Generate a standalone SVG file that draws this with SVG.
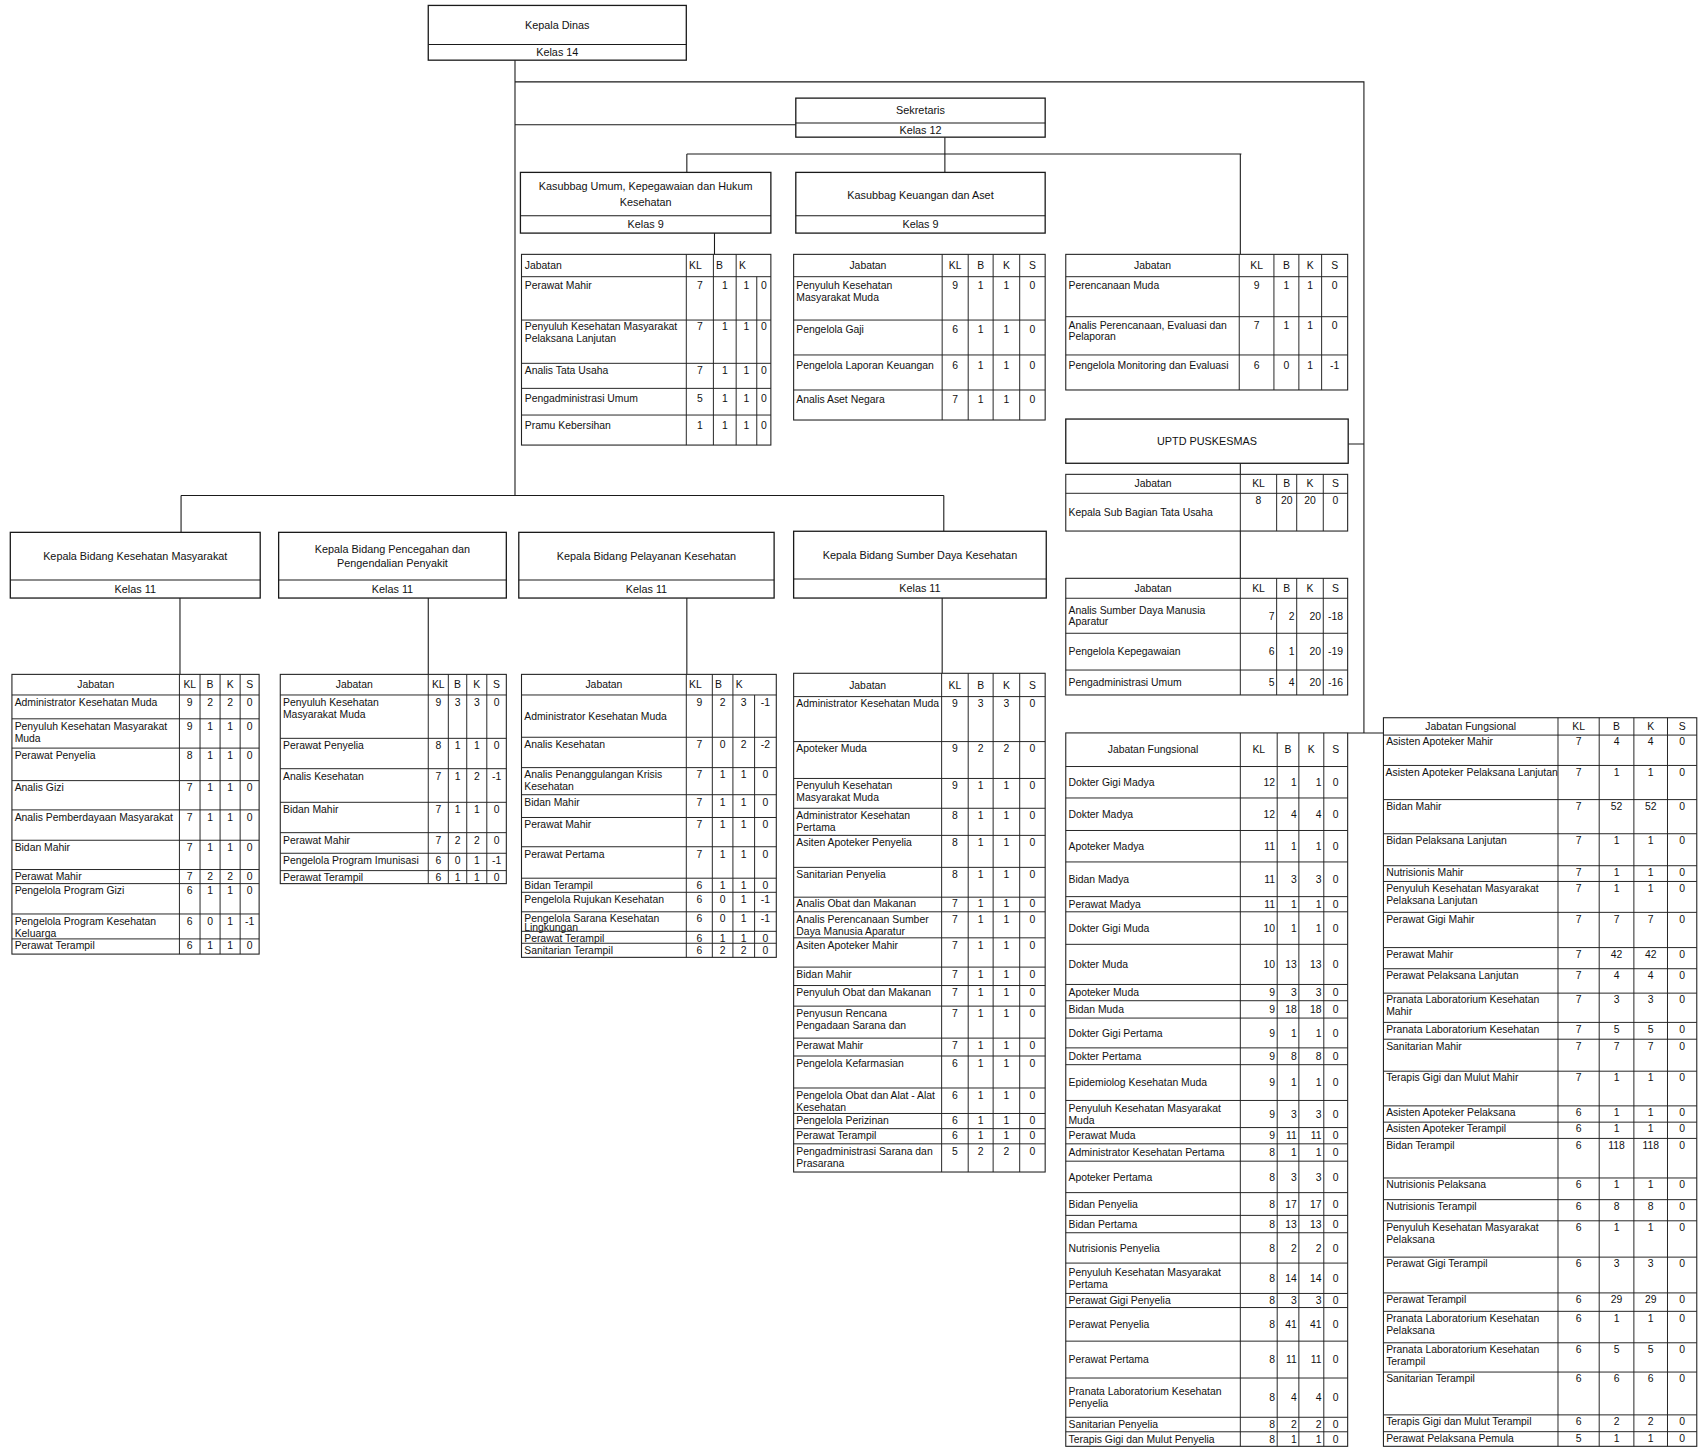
<svg xmlns="http://www.w3.org/2000/svg" width="1700" height="1451" viewBox="0 0 1700 1451">
<style>
.b{fill:#fff;stroke:#1a1a1a;stroke-width:1.2}
.tb{fill:#fff;stroke:#222;stroke-width:1}
.g{fill:none;stroke:#222;stroke-width:0.9}
.w{fill:none;stroke:#1a1a1a;stroke-width:1}
text{font-family:"Liberation Sans",Arial,sans-serif;fill:#111}
.t{font-size:10px;text-anchor:middle}
.n{font-size:9.6px}
.c{font-size:9.6px;text-anchor:middle}
.r{font-size:9.6px;text-anchor:end}
</style>
<rect width="1700" height="1451" fill="#fff"/>
<g transform="scale(1.0842)">
<g id="connectors">
<path class="w" d="M475 55.5V457M475 75.5H1258V676M475 115H734M871.5 126.5V159M633.5 142H1145M633.5 142V159M1144 142V234.6M659 215V234.6M1243.5 409.5H1258M1144 427.3V533.4M1243 676H1276M167 457H870.5M167 457V491M870.5 457V490M166 551.6V622M395 551.6V622M633.5 551.6V622M869 551.6V621"/>
</g>

<g id="kepala-dinas">
<rect class="b" x="395" y="5" width="238" height="50.5"/>
<path class="w" d="M395 41H633"/>
<text class="t" x="514" y="26.5">Kepala Dinas</text>
<text class="t" x="514" y="51.7">Kelas 14</text>
</g>

<g id="sekretaris">
<rect class="b" x="734" y="90.5" width="230" height="36"/>
<path class="w" d="M734 113.5H964"/>
<text class="t" x="849" y="105.4">Sekretaris</text>
<text class="t" x="849" y="123.4">Kelas 12</text>
</g>

<g id="kasubbag-umum">
<rect class="b" x="480" y="159" width="231" height="56"/>
<path class="w" d="M480 199H711"/>
<text class="t" x="595.5" y="175.4">Kasubbag Umum, Kepegawaian dan Hukum</text>
<text class="t" x="595.5" y="190.4">Kesehatan</text>
<text class="t" x="595.5" y="210.4">Kelas 9</text>
</g>

<g id="kasubbag-keuangan">
<rect class="b" x="734" y="159" width="230" height="56"/>
<path class="w" d="M734 199H964"/>
<text class="t" x="849" y="183.4">Kasubbag Keuangan dan Aset</text>
<text class="t" x="849" y="210.4">Kelas 9</text>
</g>

<g id="tabel-umum">
<rect class="tb" x="481" y="234.6" width="230" height="175.9"/>
<path class="g" d="M481 255.2H711M481 295.2H711M481 335.1H711M481 358.2H711M481 382.8H711M633 234.6V410.5M658 234.6V410.5M679 234.6V410.5M698 255.2V410.5"/>
<text class="n" x="484" y="248.3">Jabatan</text><text class="n" x="635.5" y="248.3">KL</text><text class="n" x="660.5" y="248.3">B</text><text class="n" x="681.5" y="248.3">K</text>
<text class="n" x="484" y="267">Perawat Mahir</text><text class="c" y="267"><tspan x="645.5">7</tspan><tspan x="668.5">1</tspan><tspan x="688.5">1</tspan><tspan x="704.5">0</tspan></text>
<text class="n" x="484" y="304.5">Penyuluh Kesehatan Masyarakat</text><text class="n" x="484" y="315.5">Pelaksana Lanjutan</text><text class="c" y="304.5"><tspan x="645.5">7</tspan><tspan x="668.5">1</tspan><tspan x="688.5">1</tspan><tspan x="704.5">0</tspan></text>
<text class="n" x="484" y="345.1">Analis Tata Usaha</text><text class="c" y="345.1"><tspan x="645.5">7</tspan><tspan x="668.5">1</tspan><tspan x="688.5">1</tspan><tspan x="704.5">0</tspan></text>
<text class="n" x="484" y="370.5">Pengadministrasi Umum</text><text class="c" y="370.5"><tspan x="645.5">5</tspan><tspan x="668.5">1</tspan><tspan x="688.5">1</tspan><tspan x="704.5">0</tspan></text>
<text class="n" x="484" y="395.5">Pramu Kebersihan</text><text class="c" y="395.5"><tspan x="645.5">1</tspan><tspan x="668.5">1</tspan><tspan x="688.5">1</tspan><tspan x="704.5">0</tspan></text>
</g>

<g id="tabel-keuangan">
<rect class="tb" x="732" y="234.6" width="232" height="152.8"/>
<path class="g" d="M732 255.2H964M732 295.2H964M732 327.4H964M732 359.7H964M869 234.6V387.4M893 234.6V387.4M916 234.6V387.4M940.5 234.6V387.4"/>
<text class="c" y="248.3"><tspan x="800.5">Jabatan</tspan><tspan x="881">KL</tspan><tspan x="904.5">B</tspan><tspan x="928.25">K</tspan><tspan x="952.25">S</tspan></text>
<text class="n" x="734.5" y="266.5">Penyuluh Kesehatan</text><text class="n" x="734.5" y="277.5">Masyarakat Muda</text><text class="c" y="266.5"><tspan x="881">9</tspan><tspan x="904.5">1</tspan><tspan x="928.25">1</tspan><tspan x="952.25">0</tspan></text>
<text class="n" x="734.5" y="307.5">Pengelola Gaji</text><text class="c" y="307.5"><tspan x="881">6</tspan><tspan x="904.5">1</tspan><tspan x="928.25">1</tspan><tspan x="952.25">0</tspan></text>
<text class="n" x="734.5" y="340">Pengelola Laporan Keuangan</text><text class="c" y="340"><tspan x="881">6</tspan><tspan x="904.5">1</tspan><tspan x="928.25">1</tspan><tspan x="952.25">0</tspan></text>
<text class="n" x="734.5" y="372">Analis Aset Negara</text><text class="c" y="372"><tspan x="881">7</tspan><tspan x="904.5">1</tspan><tspan x="928.25">1</tspan><tspan x="952.25">0</tspan></text>
</g>

<g id="tabel-perencanaan">
<rect class="tb" x="983" y="234.6" width="260" height="125.1"/>
<path class="g" d="M983 255.2H1243M983 292.1H1243M983 327.4H1243M1143 234.6V359.7M1175 234.6V359.7M1198 234.6V359.7M1219 234.6V359.7"/>
<text class="c" y="248.3"><tspan x="1063">Jabatan</tspan><tspan x="1159">KL</tspan><tspan x="1186.5">B</tspan><tspan x="1208.5">K</tspan><tspan x="1231">S</tspan></text>
<text class="n" x="985.5" y="266.5">Perencanaan Muda</text><text class="c" y="266.5"><tspan x="1159">9</tspan><tspan x="1186.5">1</tspan><tspan x="1208.5">1</tspan><tspan x="1231">0</tspan></text>
<text class="n" x="985.5" y="303">Analis Perencanaan, Evaluasi dan</text><text class="n" x="985.5" y="314">Pelaporan</text><text class="c" y="303"><tspan x="1159">7</tspan><tspan x="1186.5">1</tspan><tspan x="1208.5">1</tspan><tspan x="1231">0</tspan></text>
<text class="n" x="985.5" y="340">Pengelola Monitoring dan Evaluasi</text><text class="c" y="340"><tspan x="1159">6</tspan><tspan x="1186.5">0</tspan><tspan x="1208.5">1</tspan><tspan x="1231">-1</tspan></text>
</g>

<g id="uptd-puskesmas">
<rect class="b" x="983" y="386.5" width="260.5" height="40.8"/>
<text class="t" x="1113.25" y="410.3">UPTD PUSKESMAS</text>
</g>

<g id="tabel-uptd-1">
<rect class="tb" x="983" y="437.5" width="260" height="52.3"/>
<path class="g" d="M983 455H1243M1144 437.5V489.8M1177.5 437.5V489.8M1196 437.5V489.8M1220.5 437.5V489.8"/>
<text class="c" y="449.6"><tspan x="1063.5">Jabatan</tspan><tspan x="1160.75">KL</tspan><tspan x="1186.75">B</tspan><tspan x="1208.25">K</tspan><tspan x="1231.75">S</tspan></text>
<text class="n" x="985.5" y="475.8">Kepala Sub Bagian Tata Usaha</text><text class="c" y="465"><tspan x="1160.75">8</tspan><tspan x="1186.75">20</tspan><tspan x="1208.25">20</tspan><tspan x="1231.75">0</tspan></text>
</g>

<g id="tabel-uptd-2">
<rect class="tb" x="983" y="533.4" width="260" height="107.6"/>
<path class="g" d="M983 551.8H1243M983 584.1H1243M983 618H1243M1144 533.4V641M1177.5 533.4V641M1196 533.4V641M1220.5 533.4V641"/>
<text class="c" y="546"><tspan x="1063.5">Jabatan</tspan><tspan x="1160.75">KL</tspan><tspan x="1186.75">B</tspan><tspan x="1208.25">K</tspan><tspan x="1231.75">S</tspan></text>
<text class="n" x="985.5" y="565.9">Analis Sumber Daya Manusia</text><text class="n" x="985.5" y="576.9">Aparatur</text><text class="r" y="571.4"><tspan x="1175.5">7</tspan><tspan x="1194">2</tspan><tspan x="1218.5">20</tspan></text><text class="c" x="1231.75" y="571.4">-18</text>
<text class="n" x="985.5" y="604.5">Pengelola Kepegawaian</text><text class="r" y="604.5"><tspan x="1175.5">6</tspan><tspan x="1194">1</tspan><tspan x="1218.5">20</tspan></text><text class="c" x="1231.75" y="604.5">-19</text>
<text class="n" x="985.5" y="632.9">Pengadministrasi Umum</text><text class="r" y="632.9"><tspan x="1175.5">5</tspan><tspan x="1194">4</tspan><tspan x="1218.5">20</tspan></text><text class="c" x="1231.75" y="632.9">-16</text>
</g>

<g id="bidang-kesmas">
<rect class="b" x="9.5" y="491" width="230.5" height="60.6"/>
<path class="w" d="M9.5 535H240"/>
<text class="t" x="124.75" y="516.2">Kepala Bidang Kesehatan Masyarakat</text>
<text class="t" x="124.75" y="546.7">Kelas 11</text>
</g>
<g id="bidang-p2p">
<rect class="b" x="257" y="491" width="210" height="60.6"/>
<path class="w" d="M257 535H467"/>
<text class="t" x="362" y="510.1">Kepala Bidang Pencegahan dan</text>
<text class="t" x="362" y="523">Pengendalian Penyakit</text>
<text class="t" x="362" y="546.7">Kelas 11</text>
</g>
<g id="bidang-yankes">
<rect class="b" x="478.5" y="491" width="235.5" height="60.6"/>
<path class="w" d="M478.5 535H714"/>
<text class="t" x="596.25" y="516.2">Kepala Bidang Pelayanan Kesehatan</text>
<text class="t" x="596.25" y="546.7">Kelas 11</text>
</g>
<g id="bidang-sdk">
<rect class="b" x="732" y="490" width="233" height="61.6"/>
<path class="w" d="M732 534H965"/>
<text class="t" x="848.5" y="516">Kepala Bidang Sumber Daya Kesehatan</text>
<text class="t" x="848.5" y="546.2">Kelas 11</text>
</g>

<g id="tabel-kesmas">
<rect class="tb" x="11" y="622" width="228" height="258"/>
<path class="g" d="M11 641H239M11 663H239M11 690H239M11 720H239M11 747H239M11 775H239M11 802H239M11 815H239M11 843H239M11 866H239M165.5 622V880M184.5 622V880M203 622V880M221.5 622V880"/>
<text class="c" y="634.9"><tspan x="88.25">Jabatan</tspan><tspan x="175">KL</tspan><tspan x="193.75">B</tspan><tspan x="212.25">K</tspan><tspan x="230.25">S</tspan></text>
<text class="n" x="13.5" y="651">Administrator Kesehatan Muda</text><text class="c" y="651"><tspan x="175">9</tspan><tspan x="193.75">2</tspan><tspan x="212.25">2</tspan><tspan x="230.25">0</tspan></text>
<text class="n" x="13.5" y="673">Penyuluh Kesehatan Masyarakat</text><text class="n" x="13.5" y="684">Muda</text><text class="c" y="673"><tspan x="175">9</tspan><tspan x="193.75">1</tspan><tspan x="212.25">1</tspan><tspan x="230.25">0</tspan></text>
<text class="n" x="13.5" y="700">Perawat Penyelia</text><text class="c" y="700"><tspan x="175">8</tspan><tspan x="193.75">1</tspan><tspan x="212.25">1</tspan><tspan x="230.25">0</tspan></text>
<text class="n" x="13.5" y="730">Analis Gizi</text><text class="c" y="730"><tspan x="175">7</tspan><tspan x="193.75">1</tspan><tspan x="212.25">1</tspan><tspan x="230.25">0</tspan></text>
<text class="n" x="13.5" y="757">Analis Pemberdayaan Masyarakat</text><text class="c" y="757"><tspan x="175">7</tspan><tspan x="193.75">1</tspan><tspan x="212.25">1</tspan><tspan x="230.25">0</tspan></text>
<text class="n" x="13.5" y="785">Bidan Mahir</text><text class="c" y="785"><tspan x="175">7</tspan><tspan x="193.75">1</tspan><tspan x="212.25">1</tspan><tspan x="230.25">0</tspan></text>
<text class="n" x="13.5" y="811.5">Perawat Mahir</text><text class="c" y="811.5"><tspan x="175">7</tspan><tspan x="193.75">2</tspan><tspan x="212.25">2</tspan><tspan x="230.25">0</tspan></text>
<text class="n" x="13.5" y="825">Pengelola Program Gizi</text><text class="c" y="825"><tspan x="175">6</tspan><tspan x="193.75">1</tspan><tspan x="212.25">1</tspan><tspan x="230.25">0</tspan></text>
<text class="n" x="13.5" y="853">Pengelola Program Kesehatan</text><text class="n" x="13.5" y="864">Keluarga</text><text class="c" y="853"><tspan x="175">6</tspan><tspan x="193.75">0</tspan><tspan x="212.25">1</tspan><tspan x="230.25">-1</tspan></text>
<text class="n" x="13.5" y="875.5">Perawat Terampil</text><text class="c" y="875.5"><tspan x="175">6</tspan><tspan x="193.75">1</tspan><tspan x="212.25">1</tspan><tspan x="230.25">0</tspan></text>
</g>

<g id="tabel-p2p">
<rect class="tb" x="258.5" y="622" width="208.5" height="193"/>
<path class="g" d="M258.5 641H467M258.5 681H467M258.5 709H467M258.5 740H467M258.5 768H467M258.5 787H467M258.5 803H467M395 622V815M413.5 622V815M430.5 622V815M449 622V815"/>
<text class="c" y="634.9"><tspan x="326.75">Jabatan</tspan><tspan x="404.25">KL</tspan><tspan x="422">B</tspan><tspan x="439.75">K</tspan><tspan x="458">S</tspan></text>
<text class="n" x="261" y="651">Penyuluh Kesehatan</text><text class="n" x="261" y="662">Masyarakat Muda</text><text class="c" y="651"><tspan x="404.25">9</tspan><tspan x="422">3</tspan><tspan x="439.75">3</tspan><tspan x="458">0</tspan></text>
<text class="n" x="261" y="691">Perawat Penyelia</text><text class="c" y="691"><tspan x="404.25">8</tspan><tspan x="422">1</tspan><tspan x="439.75">1</tspan><tspan x="458">0</tspan></text>
<text class="n" x="261" y="719">Analis Kesehatan</text><text class="c" y="719"><tspan x="404.25">7</tspan><tspan x="422">1</tspan><tspan x="439.75">2</tspan><tspan x="458">-1</tspan></text>
<text class="n" x="261" y="750">Bidan Mahir</text><text class="c" y="750"><tspan x="404.25">7</tspan><tspan x="422">1</tspan><tspan x="439.75">1</tspan><tspan x="458">0</tspan></text>
<text class="n" x="261" y="778">Perawat Mahir</text><text class="c" y="778"><tspan x="404.25">7</tspan><tspan x="422">2</tspan><tspan x="439.75">2</tspan><tspan x="458">0</tspan></text>
<text class="n" x="261" y="797">Pengelola Program Imunisasi</text><text class="c" y="797"><tspan x="404.25">6</tspan><tspan x="422">0</tspan><tspan x="439.75">1</tspan><tspan x="458">-1</tspan></text>
<text class="n" x="261" y="812.5">Perawat Terampil</text><text class="c" y="812.5"><tspan x="404.25">6</tspan><tspan x="422">1</tspan><tspan x="439.75">1</tspan><tspan x="458">0</tspan></text>
</g>

<g id="tabel-yankes">
<rect class="tb" x="481" y="622" width="235" height="261"/>
<path class="g" d="M481 641H716M481 680H716M481 708H716M481 733H716M481 754H716M481 781H716M481 810H716M481 823H716M481 841H716M481 859H716M481 870H716M633 622V883M657 622V883M676 622V883M696 641V883"/>
<text class="c" x="557" y="634.9">Jabatan</text><text class="n" x="635.5" y="634.9">KL</text><text class="n" x="659.5" y="634.9">B</text><text class="n" x="678.5" y="634.9">K</text>
<text class="n" x="483.5" y="663.9">Administrator Kesehatan Muda</text><text class="c" y="651"><tspan x="645">9</tspan><tspan x="666.5">2</tspan><tspan x="686">3</tspan><tspan x="706">-1</tspan></text>
<text class="n" x="483.5" y="690">Analis Kesehatan</text><text class="c" y="690"><tspan x="645">7</tspan><tspan x="666.5">0</tspan><tspan x="686">2</tspan><tspan x="706">-2</tspan></text>
<text class="n" x="483.5" y="718">Analis Penanggulangan Krisis</text><text class="n" x="483.5" y="729">Kesehatan</text><text class="c" y="718"><tspan x="645">7</tspan><tspan x="666.5">1</tspan><tspan x="686">1</tspan><tspan x="706">0</tspan></text>
<text class="n" x="483.5" y="743">Bidan Mahir</text><text class="c" y="743"><tspan x="645">7</tspan><tspan x="666.5">1</tspan><tspan x="686">1</tspan><tspan x="706">0</tspan></text>
<text class="n" x="483.5" y="764">Perawat Mahir</text><text class="c" y="764"><tspan x="645">7</tspan><tspan x="666.5">1</tspan><tspan x="686">1</tspan><tspan x="706">0</tspan></text>
<text class="n" x="483.5" y="791">Perawat Pertama</text><text class="c" y="791"><tspan x="645">7</tspan><tspan x="666.5">1</tspan><tspan x="686">1</tspan><tspan x="706">0</tspan></text>
<text class="n" x="483.5" y="819.5">Bidan Terampil</text><text class="c" y="819.5"><tspan x="645">6</tspan><tspan x="666.5">1</tspan><tspan x="686">1</tspan><tspan x="706">0</tspan></text>
<text class="n" x="483.5" y="832.5">Pengelola Rujukan Kesehatan</text><text class="c" y="832.5"><tspan x="645">6</tspan><tspan x="666.5">0</tspan><tspan x="686">1</tspan><tspan x="706">-1</tspan></text>
<text class="n" x="483.5" y="850.5">Pengelola Sarana Kesehatan</text><text class="n" x="483.5" y="858.8" font-size="8px">Lingkungan</text><text class="c" y="850.5"><tspan x="645">6</tspan><tspan x="666.5">0</tspan><tspan x="686">1</tspan><tspan x="706">-1</tspan></text>
<text class="n" x="483.5" y="868.5">Perawat Terampil</text><text class="c" y="868.5"><tspan x="645">6</tspan><tspan x="666.5">1</tspan><tspan x="686">1</tspan><tspan x="706">0</tspan></text>
<text class="n" x="483.5" y="879.5">Sanitarian Terampil</text><text class="c" y="879.5"><tspan x="645">6</tspan><tspan x="666.5">2</tspan><tspan x="686">2</tspan><tspan x="706">0</tspan></text>
</g>

<g id="tabel-sdk">
<rect class="tb" x="732" y="621" width="232" height="460"/>
<path class="g" d="M732 642.5H964M732 684H964M732 718H964M732 745.5H964M732 770.5H964M732 800H964M732 827.5H964M732 841H964M732 865H964M732 892H964M732 909H964M732 928H964M732 957.5H964M732 974H964M732 1003.5H964M732 1027H964M732 1041H964M732 1055H964M868.5 621V1081M893 621V1081M916 621V1081M940.5 621V1081"/>
<text class="c" y="635.1"><tspan x="800.25">Jabatan</tspan><tspan x="880.75">KL</tspan><tspan x="904.5">B</tspan><tspan x="928.25">K</tspan><tspan x="952.25">S</tspan></text>
<text class="n" x="734.5" y="652.5">Administrator Kesehatan Muda</text><text class="c" y="652.5"><tspan x="880.75">9</tspan><tspan x="904.5">3</tspan><tspan x="928.25">3</tspan><tspan x="952.25">0</tspan></text>
<text class="n" x="734.5" y="694">Apoteker Muda</text><text class="c" y="694"><tspan x="880.75">9</tspan><tspan x="904.5">2</tspan><tspan x="928.25">2</tspan><tspan x="952.25">0</tspan></text>
<text class="n" x="734.5" y="728">Penyuluh Kesehatan</text><text class="n" x="734.5" y="739">Masyarakat Muda</text><text class="c" y="728"><tspan x="880.75">9</tspan><tspan x="904.5">1</tspan><tspan x="928.25">1</tspan><tspan x="952.25">0</tspan></text>
<text class="n" x="734.5" y="755.5">Administrator Kesehatan</text><text class="n" x="734.5" y="766.5">Pertama</text><text class="c" y="755.5"><tspan x="880.75">8</tspan><tspan x="904.5">1</tspan><tspan x="928.25">1</tspan><tspan x="952.25">0</tspan></text>
<text class="n" x="734.5" y="780.5">Asiten Apoteker Penyelia</text><text class="c" y="780.5"><tspan x="880.75">8</tspan><tspan x="904.5">1</tspan><tspan x="928.25">1</tspan><tspan x="952.25">0</tspan></text>
<text class="n" x="734.5" y="810">Sanitarian Penyelia</text><text class="c" y="810"><tspan x="880.75">8</tspan><tspan x="904.5">1</tspan><tspan x="928.25">1</tspan><tspan x="952.25">0</tspan></text>
<text class="n" x="734.5" y="837">Analis Obat dan Makanan</text><text class="c" y="837"><tspan x="880.75">7</tspan><tspan x="904.5">1</tspan><tspan x="928.25">1</tspan><tspan x="952.25">0</tspan></text>
<text class="n" x="734.5" y="851">Analis Perencanaan Sumber</text><text class="n" x="734.5" y="862">Daya Manusia Aparatur</text><text class="c" y="851"><tspan x="880.75">7</tspan><tspan x="904.5">1</tspan><tspan x="928.25">1</tspan><tspan x="952.25">0</tspan></text>
<text class="n" x="734.5" y="875">Asiten Apoteker Mahir</text><text class="c" y="875"><tspan x="880.75">7</tspan><tspan x="904.5">1</tspan><tspan x="928.25">1</tspan><tspan x="952.25">0</tspan></text>
<text class="n" x="734.5" y="902">Bidan Mahir</text><text class="c" y="902"><tspan x="880.75">7</tspan><tspan x="904.5">1</tspan><tspan x="928.25">1</tspan><tspan x="952.25">0</tspan></text>
<text class="n" x="734.5" y="919">Penyuluh Obat dan Makanan</text><text class="c" y="919"><tspan x="880.75">7</tspan><tspan x="904.5">1</tspan><tspan x="928.25">1</tspan><tspan x="952.25">0</tspan></text>
<text class="n" x="734.5" y="938">Penyusun Rencana</text><text class="n" x="734.5" y="949">Pengadaan Sarana dan</text><text class="c" y="938"><tspan x="880.75">7</tspan><tspan x="904.5">1</tspan><tspan x="928.25">1</tspan><tspan x="952.25">0</tspan></text>
<text class="n" x="734.5" y="967.5">Perawat Mahir</text><text class="c" y="967.5"><tspan x="880.75">7</tspan><tspan x="904.5">1</tspan><tspan x="928.25">1</tspan><tspan x="952.25">0</tspan></text>
<text class="n" x="734.5" y="984">Pengelola Kefarmasian</text><text class="c" y="984"><tspan x="880.75">6</tspan><tspan x="904.5">1</tspan><tspan x="928.25">1</tspan><tspan x="952.25">0</tspan></text>
<text class="n" x="734.5" y="1013.5">Pengelola Obat dan Alat - Alat</text><text class="n" x="734.5" y="1024.5">Kesehatan</text><text class="c" y="1013.5"><tspan x="880.75">6</tspan><tspan x="904.5">1</tspan><tspan x="928.25">1</tspan><tspan x="952.25">0</tspan></text>
<text class="n" x="734.5" y="1037">Pengelola Perizinan</text><text class="c" y="1037"><tspan x="880.75">6</tspan><tspan x="904.5">1</tspan><tspan x="928.25">1</tspan><tspan x="952.25">0</tspan></text>
<text class="n" x="734.5" y="1051">Perawat Terampil</text><text class="c" y="1051"><tspan x="880.75">6</tspan><tspan x="904.5">1</tspan><tspan x="928.25">1</tspan><tspan x="952.25">0</tspan></text>
<text class="n" x="734.5" y="1065">Pengadministrasi Sarana dan</text><text class="n" x="734.5" y="1076">Prasarana</text><text class="c" y="1065"><tspan x="880.75">5</tspan><tspan x="904.5">2</tspan><tspan x="928.25">2</tspan><tspan x="952.25">0</tspan></text>
</g>

<g id="tabel-fungsional-1">
<rect class="tb" x="983" y="676" width="260" height="658"/>
<path class="g" d="M983 707H1243M983 736H1243M983 766H1243M983 795H1243M983 827H1243M983 841H1243M983 871H1243M983 908H1243M983 923H1243M983 939H1243M983 966.5H1243M983 982H1243M983 1015H1243M983 1040H1243M983 1055H1243M983 1071H1243M983 1100H1243M983 1121H1243M983 1137H1243M983 1165H1243M983 1193H1243M983 1206H1243M983 1237H1243M983 1271H1243M983 1307.2H1243M983 1320.6H1243M1144 676V1334M1178 676V1334M1198 676V1334M1221 676V1334"/>
<text class="c" y="694.9"><tspan x="1063.5">Jabatan Fungsional</tspan><tspan x="1161">KL</tspan><tspan x="1188">B</tspan><tspan x="1209.5">K</tspan><tspan x="1232">S</tspan></text>
<text class="n" x="985.5" y="724.9">Dokter Gigi Madya</text><text class="r" y="724.9"><tspan x="1176">12</tspan><tspan x="1196">1</tspan><tspan x="1219">1</tspan></text><text class="c" x="1232" y="724.9">0</text>
<text class="n" x="985.5" y="754.4">Dokter Madya</text><text class="r" y="754.4"><tspan x="1176">12</tspan><tspan x="1196">4</tspan><tspan x="1219">4</tspan></text><text class="c" x="1232" y="754.4">0</text>
<text class="n" x="985.5" y="783.9">Apoteker Madya</text><text class="r" y="783.9"><tspan x="1176">11</tspan><tspan x="1196">1</tspan><tspan x="1219">1</tspan></text><text class="c" x="1232" y="783.9">0</text>
<text class="n" x="985.5" y="814.4">Bidan Madya</text><text class="r" y="814.4"><tspan x="1176">11</tspan><tspan x="1196">3</tspan><tspan x="1219">3</tspan></text><text class="c" x="1232" y="814.4">0</text>
<text class="n" x="985.5" y="837.4">Perawat Madya</text><text class="r" y="837.4"><tspan x="1176">11</tspan><tspan x="1196">1</tspan><tspan x="1219">1</tspan></text><text class="c" x="1232" y="837.4">0</text>
<text class="n" x="985.5" y="859.4">Dokter Gigi Muda</text><text class="r" y="859.4"><tspan x="1176">10</tspan><tspan x="1196">1</tspan><tspan x="1219">1</tspan></text><text class="c" x="1232" y="859.4">0</text>
<text class="n" x="985.5" y="892.9">Dokter Muda</text><text class="r" y="892.9"><tspan x="1176">10</tspan><tspan x="1196">13</tspan><tspan x="1219">13</tspan></text><text class="c" x="1232" y="892.9">0</text>
<text class="n" x="985.5" y="918.9">Apoteker Muda</text><text class="r" y="918.9"><tspan x="1176">9</tspan><tspan x="1196">3</tspan><tspan x="1219">3</tspan></text><text class="c" x="1232" y="918.9">0</text>
<text class="n" x="985.5" y="934.4">Bidan Muda</text><text class="r" y="934.4"><tspan x="1176">9</tspan><tspan x="1196">18</tspan><tspan x="1219">18</tspan></text><text class="c" x="1232" y="934.4">0</text>
<text class="n" x="985.5" y="956.2">Dokter Gigi Pertama</text><text class="r" y="956.2"><tspan x="1176">9</tspan><tspan x="1196">1</tspan><tspan x="1219">1</tspan></text><text class="c" x="1232" y="956.2">0</text>
<text class="n" x="985.5" y="977.7">Dokter Pertama</text><text class="r" y="977.7"><tspan x="1176">9</tspan><tspan x="1196">8</tspan><tspan x="1219">8</tspan></text><text class="c" x="1232" y="977.7">0</text>
<text class="n" x="985.5" y="1001.9">Epidemiolog Kesehatan Muda</text><text class="r" y="1001.9"><tspan x="1176">9</tspan><tspan x="1196">1</tspan><tspan x="1219">1</tspan></text><text class="c" x="1232" y="1001.9">0</text>
<text class="n" x="985.5" y="1025.4">Penyuluh Kesehatan Masyarakat</text><text class="n" x="985.5" y="1036.4">Muda</text><text class="r" y="1030.9"><tspan x="1176">9</tspan><tspan x="1196">3</tspan><tspan x="1219">3</tspan></text><text class="c" x="1232" y="1030.9">0</text>
<text class="n" x="985.5" y="1050.9">Perawat Muda</text><text class="r" y="1050.9"><tspan x="1176">9</tspan><tspan x="1196">11</tspan><tspan x="1219">11</tspan></text><text class="c" x="1232" y="1050.9">0</text>
<text class="n" x="985.5" y="1066.4">Administrator Kesehatan Pertama</text><text class="r" y="1066.4"><tspan x="1176">8</tspan><tspan x="1196">1</tspan><tspan x="1219">1</tspan></text><text class="c" x="1232" y="1066.4">0</text>
<text class="n" x="985.5" y="1088.9">Apoteker Pertama</text><text class="r" y="1088.9"><tspan x="1176">8</tspan><tspan x="1196">3</tspan><tspan x="1219">3</tspan></text><text class="c" x="1232" y="1088.9">0</text>
<text class="n" x="985.5" y="1113.9">Bidan Penyelia</text><text class="r" y="1113.9"><tspan x="1176">8</tspan><tspan x="1196">17</tspan><tspan x="1219">17</tspan></text><text class="c" x="1232" y="1113.9">0</text>
<text class="n" x="985.5" y="1132.4">Bidan Pertama</text><text class="r" y="1132.4"><tspan x="1176">8</tspan><tspan x="1196">13</tspan><tspan x="1219">13</tspan></text><text class="c" x="1232" y="1132.4">0</text>
<text class="n" x="985.5" y="1154.4">Nutrisionis Penyelia</text><text class="r" y="1154.4"><tspan x="1176">8</tspan><tspan x="1196">2</tspan><tspan x="1219">2</tspan></text><text class="c" x="1232" y="1154.4">0</text>
<text class="n" x="985.5" y="1176.9">Penyuluh Kesehatan Masyarakat</text><text class="n" x="985.5" y="1187.9">Pertama</text><text class="r" y="1182.4"><tspan x="1176">8</tspan><tspan x="1196">14</tspan><tspan x="1219">14</tspan></text><text class="c" x="1232" y="1182.4">0</text>
<text class="n" x="985.5" y="1202.9">Perawat Gigi Penyelia</text><text class="r" y="1202.9"><tspan x="1176">8</tspan><tspan x="1196">3</tspan><tspan x="1219">3</tspan></text><text class="c" x="1232" y="1202.9">0</text>
<text class="n" x="985.5" y="1224.9">Perawat Penyelia</text><text class="r" y="1224.9"><tspan x="1176">8</tspan><tspan x="1196">41</tspan><tspan x="1219">41</tspan></text><text class="c" x="1232" y="1224.9">0</text>
<text class="n" x="985.5" y="1257.4">Perawat Pertama</text><text class="r" y="1257.4"><tspan x="1176">8</tspan><tspan x="1196">11</tspan><tspan x="1219">11</tspan></text><text class="c" x="1232" y="1257.4">0</text>
<text class="n" x="985.5" y="1286.9">Pranata Laboratorium Kesehatan</text><text class="n" x="985.5" y="1297.9">Penyelia</text><text class="r" y="1292.4"><tspan x="1176">8</tspan><tspan x="1196">4</tspan><tspan x="1219">4</tspan></text><text class="c" x="1232" y="1292.4">0</text>
<text class="n" x="985.5" y="1317.3">Sanitarian Penyelia</text><text class="r" y="1317.3"><tspan x="1176">8</tspan><tspan x="1196">2</tspan><tspan x="1219">2</tspan></text><text class="c" x="1232" y="1317.3">0</text>
<text class="n" x="985.5" y="1330.7">Terapis Gigi dan Mulut Penyelia</text><text class="r" y="1330.7"><tspan x="1176">8</tspan><tspan x="1196">1</tspan><tspan x="1219">1</tspan></text><text class="c" x="1232" y="1330.7">0</text>
</g>

<g id="tabel-fungsional-2">
<rect class="tb" x="1276" y="662" width="289" height="672"/>
<path class="g" d="M1276 678H1565M1276 706H1565M1276 737.5H1565M1276 769H1565M1276 798.5H1565M1276 813H1565M1276 841.5H1565M1276 874H1565M1276 893.5H1565M1276 916H1565M1276 943H1565M1276 958.5H1565M1276 988H1565M1276 1020H1565M1276 1035H1565M1276 1050H1565M1276 1086.5H1565M1276 1106.5H1565M1276 1126H1565M1276 1159.5H1565M1276 1192.5H1565M1276 1209.5H1565M1276 1238.5H1565M1276 1265.5H1565M1276 1305H1565M1276 1320.5H1565M1437 662V1334M1475 662V1334M1507 662V1334M1538 662V1334"/>
<text class="c" y="673.4"><tspan x="1356.5">Jabatan Fungsional</tspan><tspan x="1456">KL</tspan><tspan x="1491">B</tspan><tspan x="1522.5">K</tspan><tspan x="1551.5">S</tspan></text>
<text class="n" x="1278.5" y="687.5">Asisten Apoteker Mahir</text><text class="c" y="687.5"><tspan x="1456">7</tspan><tspan x="1491">4</tspan><tspan x="1522.5">4</tspan><tspan x="1551.5">0</tspan></text>
<text class="n" x="1278" y="715.5" font-size="9.1px">Asisten Apoteker Pelaksana Lanjutan</text><text class="c" y="715.5"><tspan x="1456">7</tspan><tspan x="1491">1</tspan><tspan x="1522.5">1</tspan><tspan x="1551.5">0</tspan></text>
<text class="n" x="1278.5" y="747">Bidan Mahir</text><text class="c" y="747"><tspan x="1456">7</tspan><tspan x="1491">52</tspan><tspan x="1522.5">52</tspan><tspan x="1551.5">0</tspan></text>
<text class="n" x="1278.5" y="778.5">Bidan Pelaksana Lanjutan</text><text class="c" y="778.5"><tspan x="1456">7</tspan><tspan x="1491">1</tspan><tspan x="1522.5">1</tspan><tspan x="1551.5">0</tspan></text>
<text class="n" x="1278.5" y="808">Nutrisionis Mahir</text><text class="c" y="808"><tspan x="1456">7</tspan><tspan x="1491">1</tspan><tspan x="1522.5">1</tspan><tspan x="1551.5">0</tspan></text>
<text class="n" x="1278.5" y="822.5">Penyuluh Kesehatan Masyarakat</text><text class="n" x="1278.5" y="833.5">Pelaksana Lanjutan</text><text class="c" y="822.5"><tspan x="1456">7</tspan><tspan x="1491">1</tspan><tspan x="1522.5">1</tspan><tspan x="1551.5">0</tspan></text>
<text class="n" x="1278.5" y="851">Perawat Gigi Mahir</text><text class="c" y="851"><tspan x="1456">7</tspan><tspan x="1491">7</tspan><tspan x="1522.5">7</tspan><tspan x="1551.5">0</tspan></text>
<text class="n" x="1278.5" y="883.5">Perawat Mahir</text><text class="c" y="883.5"><tspan x="1456">7</tspan><tspan x="1491">42</tspan><tspan x="1522.5">42</tspan><tspan x="1551.5">0</tspan></text>
<text class="n" x="1278.5" y="903">Perawat Pelaksana Lanjutan</text><text class="c" y="903"><tspan x="1456">7</tspan><tspan x="1491">4</tspan><tspan x="1522.5">4</tspan><tspan x="1551.5">0</tspan></text>
<text class="n" x="1278.5" y="925.5">Pranata Laboratorium Kesehatan</text><text class="n" x="1278.5" y="936.5">Mahir</text><text class="c" y="925.5"><tspan x="1456">7</tspan><tspan x="1491">3</tspan><tspan x="1522.5">3</tspan><tspan x="1551.5">0</tspan></text>
<text class="n" x="1278.5" y="952.5">Pranata Laboratorium Kesehatan</text><text class="c" y="952.5"><tspan x="1456">7</tspan><tspan x="1491">5</tspan><tspan x="1522.5">5</tspan><tspan x="1551.5">0</tspan></text>
<text class="n" x="1278.5" y="968">Sanitarian Mahir</text><text class="c" y="968"><tspan x="1456">7</tspan><tspan x="1491">7</tspan><tspan x="1522.5">7</tspan><tspan x="1551.5">0</tspan></text>
<text class="n" x="1278.5" y="997.5">Terapis Gigi dan Mulut Mahir</text><text class="c" y="997.5"><tspan x="1456">7</tspan><tspan x="1491">1</tspan><tspan x="1522.5">1</tspan><tspan x="1551.5">0</tspan></text>
<text class="n" x="1278.5" y="1029.5">Asisten Apoteker Pelaksana</text><text class="c" y="1029.5"><tspan x="1456">6</tspan><tspan x="1491">1</tspan><tspan x="1522.5">1</tspan><tspan x="1551.5">0</tspan></text>
<text class="n" x="1278.5" y="1044.5">Asisten Apoteker Terampil</text><text class="c" y="1044.5"><tspan x="1456">6</tspan><tspan x="1491">1</tspan><tspan x="1522.5">1</tspan><tspan x="1551.5">0</tspan></text>
<text class="n" x="1278.5" y="1059.5">Bidan Terampil</text><text class="c" y="1059.5"><tspan x="1456">6</tspan><tspan x="1491">118</tspan><tspan x="1522.5">118</tspan><tspan x="1551.5">0</tspan></text>
<text class="n" x="1278.5" y="1096">Nutrisionis Pelaksana</text><text class="c" y="1096"><tspan x="1456">6</tspan><tspan x="1491">1</tspan><tspan x="1522.5">1</tspan><tspan x="1551.5">0</tspan></text>
<text class="n" x="1278.5" y="1116">Nutrisionis Terampil</text><text class="c" y="1116"><tspan x="1456">6</tspan><tspan x="1491">8</tspan><tspan x="1522.5">8</tspan><tspan x="1551.5">0</tspan></text>
<text class="n" x="1278.5" y="1135.5">Penyuluh Kesehatan Masyarakat</text><text class="n" x="1278.5" y="1146.5">Pelaksana</text><text class="c" y="1135.5"><tspan x="1456">6</tspan><tspan x="1491">1</tspan><tspan x="1522.5">1</tspan><tspan x="1551.5">0</tspan></text>
<text class="n" x="1278.5" y="1169">Perawat Gigi Terampil</text><text class="c" y="1169"><tspan x="1456">6</tspan><tspan x="1491">3</tspan><tspan x="1522.5">3</tspan><tspan x="1551.5">0</tspan></text>
<text class="n" x="1278.5" y="1202">Perawat Terampil</text><text class="c" y="1202"><tspan x="1456">6</tspan><tspan x="1491">29</tspan><tspan x="1522.5">29</tspan><tspan x="1551.5">0</tspan></text>
<text class="n" x="1278.5" y="1219">Pranata Laboratorium Kesehatan</text><text class="n" x="1278.5" y="1230">Pelaksana</text><text class="c" y="1219"><tspan x="1456">6</tspan><tspan x="1491">1</tspan><tspan x="1522.5">1</tspan><tspan x="1551.5">0</tspan></text>
<text class="n" x="1278.5" y="1248">Pranata Laboratorium Kesehatan</text><text class="n" x="1278.5" y="1259">Terampil</text><text class="c" y="1248"><tspan x="1456">6</tspan><tspan x="1491">5</tspan><tspan x="1522.5">5</tspan><tspan x="1551.5">0</tspan></text>
<text class="n" x="1278.5" y="1275">Sanitarian Terampil</text><text class="c" y="1275"><tspan x="1456">6</tspan><tspan x="1491">6</tspan><tspan x="1522.5">6</tspan><tspan x="1551.5">0</tspan></text>
<text class="n" x="1278.5" y="1314.5">Terapis Gigi dan Mulut Terampil</text><text class="c" y="1314.5"><tspan x="1456">6</tspan><tspan x="1491">2</tspan><tspan x="1522.5">2</tspan><tspan x="1551.5">0</tspan></text>
<text class="n" x="1278.5" y="1330">Perawat Pelaksana Pemula</text><text class="c" y="1330"><tspan x="1456">5</tspan><tspan x="1491">1</tspan><tspan x="1522.5">1</tspan><tspan x="1551.5">0</tspan></text>
</g>
</g>
</svg>
